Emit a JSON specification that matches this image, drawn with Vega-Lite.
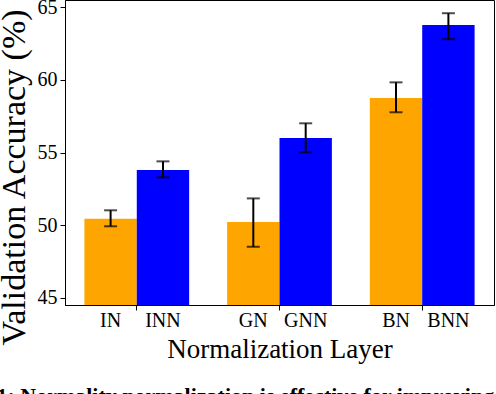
{
  "$schema": "https://vega.github.io/schema/vega-lite/v6.json",
  "width": 429,
  "height": 305,
  "autosize": {"type": "none"},
  "padding": {"left": 65, "top": 0, "right": 2, "bottom": 89},
  "config": {
    "font": "Liberation Serif",
    "view": {"stroke": "black", "strokeWidth": 1},
    "axis": {
      "grid": false,
      "domainColor": "black",
      "tickColor": "black",
      "labelColor": "black",
      "titleColor": "black",
      "labelFont": "Liberation Serif",
      "titleFont": "Liberation Serif",
      "titleFontWeight": "normal"
    }
  },
  "title": {
    "text": "Figure 1: Normality normalization is effective for improving performance",
    "orient": "bottom",
    "anchor": "start",
    "frame": "group",
    "font": "Liberation Serif",
    "fontSize": 22,
    "fontWeight": "bold",
    "color": "black",
    "baseline": "top",
    "offset": 23,
    "dx": -136
  },
  "data": {
    "values": [
      {"group": "I", "type": "base", "label": "IN", "value": 50.43, "lower": 49.92, "upper": 51.02},
      {"group": "I", "type": "nn", "label": "INN", "value": 53.79, "lower": 53.29, "upper": 54.39},
      {"group": "G", "type": "base", "label": "GN", "value": 50.21, "lower": 48.51, "upper": 51.84},
      {"group": "G", "type": "nn", "label": "GNN", "value": 56.0, "lower": 55.01, "upper": 57.01},
      {"group": "B", "type": "base", "label": "BN", "value": 58.75, "lower": 57.77, "upper": 59.83},
      {"group": "B", "type": "nn", "label": "BNN", "value": 63.78, "lower": 62.8, "upper": 64.59}
    ]
  },
  "encoding": {
    "x": {
      "field": "group",
      "type": "nominal",
      "sort": ["I", "G", "B"],
      "scale": {"paddingInner": 0.266, "paddingOuter": 0.136},
      "axis": {
        "labels": false,
        "title": "Normalization Layer",
        "titleFontSize": 27,
        "tickSize": 5,
        "titlePadding": 26
      }
    },
    "xOffset": {
      "field": "type",
      "type": "nominal",
      "sort": ["base", "nn"],
      "scale": {"paddingInner": 0, "paddingOuter": 0}
    }
  },
  "layer": [
    {
      "mark": {"type": "bar"},
      "encoding": {
        "y": {
          "field": "value",
          "type": "quantitative",
          "scale": {"domain": [44.5, 65.5], "nice": false, "zero": false},
          "axis": {
            "values": [45, 50, 55, 60, 65],
            "labelFontSize": 20,
            "tickSize": 5,
            "labelPadding": 3,
            "title": "Validation Accuracy (%)",
            "titleFontSize": 34,
            "titlePadding": 6,
            "titleY": 177
          }
        },
        "y2": {"datum": 44.5},
        "color": {
          "field": "type",
          "type": "nominal",
          "scale": {"domain": ["base", "nn"], "range": ["#FFA500", "#0000FF"]},
          "legend": null
        }
      }
    },
    {
      "mark": {"type": "rule", "strokeWidth": 2, "color": "black"},
      "encoding": {
        "y": {"field": "lower", "type": "quantitative"},
        "y2": {"field": "upper"}
      }
    },
    {
      "mark": {"type": "tick", "size": 13, "thickness": 2, "color": "black"},
      "encoding": {"y": {"field": "lower", "type": "quantitative"}}
    },
    {
      "mark": {"type": "tick", "size": 13, "thickness": 2, "color": "black"},
      "encoding": {"y": {"field": "upper", "type": "quantitative"}}
    },
    {
      "mark": {"type": "text", "baseline": "alphabetic", "dy": 22, "fontSize": 20, "color": "black", "font": "Liberation Serif"},
      "encoding": {
        "y": {"datum": 44.5},
        "text": {"field": "label"}
      }
    }
  ]
}
